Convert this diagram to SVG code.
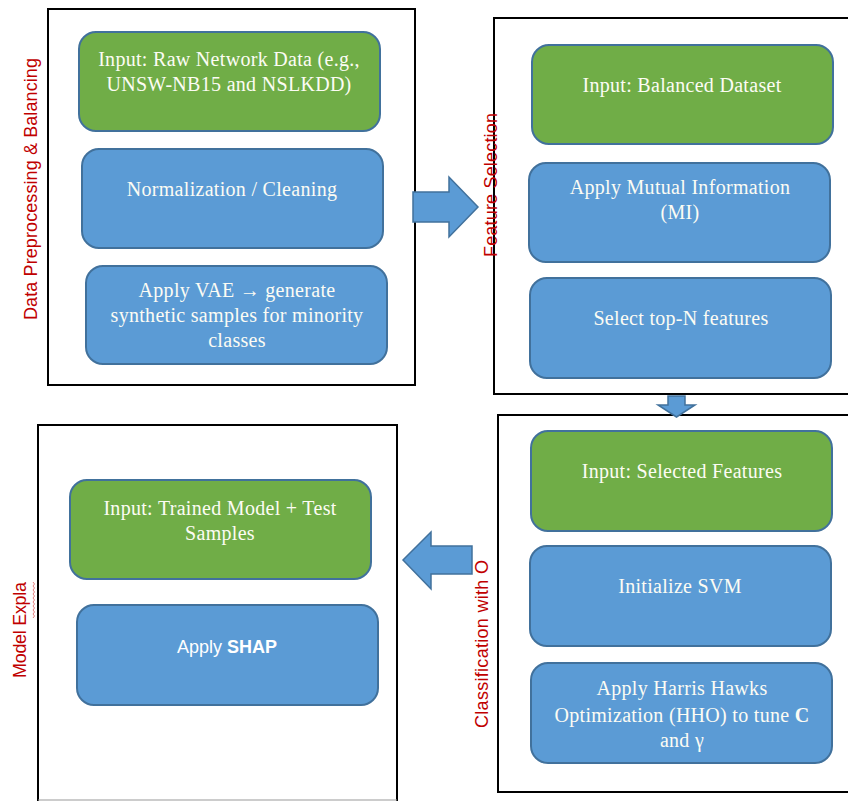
<svg xmlns="http://www.w3.org/2000/svg" width="848" height="801" viewBox="0 0 848 801">
<defs>
<style>
.panel{fill:#ffffff;stroke:#000000;stroke-width:2}
.green{fill:#70ad47;stroke:#41719c;stroke-width:2}
.blue{fill:#5b9bd5;stroke:#41719c;stroke-width:2}
.arrow{fill:#5b9bd5;stroke:#41719c;stroke-width:1.5}
.t{font-family:"Liberation Serif","Times New Roman",serif;font-size:20px;fill:#fcfcf4;text-anchor:middle;letter-spacing:0.3px}
.s{font-family:"Liberation Sans",Arial,sans-serif;font-size:18px;fill:#ffffff;text-anchor:middle}
.lab{font-family:"Liberation Sans",Arial,sans-serif;font-size:18px;fill:#c00000;text-anchor:middle}
</style>
</defs>
<rect width="848" height="801" fill="#ffffff"/>

<g id="panel-preprocessing">
<rect class="panel" x="48" y="9" width="367" height="376"/>
<text class="lab" transform="translate(37,189) rotate(-90)" textLength="262" lengthAdjust="spacing">Data Preprocessing &amp; Balancing</text>
</g>
<g id="node-raw-input">
<rect class="green" x="79" y="32" width="301" height="99" rx="17"/>
<text class="t" x="229" y="66">Input: Raw Network Data (e.g.,</text>
<text class="t" x="229" y="91">UNSW-NB15 and NSLKDD)</text>
</g>
<g id="node-normalization">
<rect class="blue" x="82" y="149" width="301" height="99" rx="17"/>
<text class="t" x="232" y="196">Normalization / Cleaning</text>
</g>
<g id="node-vae">
<rect class="blue" x="86" y="266" width="301" height="98" rx="17"/>
<text class="t" x="237" y="297">Apply VAE → generate</text>
<text class="t" x="237" y="322">synthetic samples for minority</text>
<text class="t" x="237" y="347">classes</text>
</g>

<g id="panel-feature-selection">
<rect class="panel" x="494" y="18" width="360" height="376"/>
<text class="lab" transform="translate(497,185) rotate(-90)" textLength="144" lengthAdjust="spacing">Feature Selection</text>
</g>
<g id="node-balanced-input">
<rect class="green" x="532" y="45" width="301" height="99" rx="17"/>
<text class="t" x="682" y="92">Input: Balanced Dataset</text>
</g>
<g id="node-mi">
<rect class="blue" x="529" y="163" width="301" height="99" rx="17"/>
<text class="t" x="680" y="194">Apply Mutual Information</text>
<text class="t" x="680" y="219">(MI)</text>
</g>
<g id="node-topn">
<rect class="blue" x="530" y="278" width="301" height="100" rx="17"/>
<text class="t" x="681" y="325">Select top-N features</text>
</g>

<g id="panel-classification">
<rect class="panel" x="498" y="415" width="360" height="377"/>
<text class="lab" transform="translate(488,644) rotate(-90)" textLength="168" lengthAdjust="spacing">Classification with O</text>
</g>
<g id="node-selected-input">
<rect class="green" x="531" y="431" width="301" height="100" rx="17"/>
<text class="t" x="682" y="478">Input: Selected Features</text>
</g>
<g id="node-svm">
<rect class="blue" x="530" y="546" width="301" height="100" rx="17"/>
<text class="t" x="680" y="593">Initialize SVM</text>
</g>
<g id="node-hho">
<rect class="blue" x="531" y="663" width="301" height="100" rx="17"/>
<text class="t" x="682" y="695">Apply Harris Hawks</text>
<text class="t" x="682" y="722">Optimization (HHO) to tune <tspan font-weight="bold">C</tspan></text>
<text class="t" x="682" y="747">and γ</text>
</g>

<g id="panel-explanation">
<rect class="panel" x="38" y="425" width="359" height="390"/>
<line x1="38" y1="800" x2="397" y2="800" stroke="#999999" stroke-width="1"/>
<text class="lab" transform="translate(26,630) rotate(-90)" textLength="96" lengthAdjust="spacing">Model Expla</text>
<path d="M33,582 l1.5,2 l-1.5,2 l1.5,2 l-1.5,2 l1.5,2 l-1.5,2 l1.5,2 l-1.5,2 l1.5,2 l-1.5,2 l1.5,2 l-1.5,2 l1.5,2 l-1.5,2 l1.5,2 l-1.5,2 l1.5,2 l-1.5,2" fill="none" stroke="#e06060" stroke-width="0.8"/>
</g>
<g id="node-trained-input">
<rect class="green" x="70" y="480" width="301" height="99" rx="17"/>
<text class="t" x="220" y="515">Input: Trained Model + Test</text>
<text class="t" x="220" y="540">Samples</text>
</g>
<g id="node-shap">
<rect class="blue" x="77" y="605" width="301" height="100" rx="17"/>
<text class="s" x="227" y="653">Apply <tspan font-weight="bold">SHAP</tspan></text>
</g>

<g id="connectors">
<polygon class="arrow" points="413,192 449,192 449,177 478,207 449,237 449,222 413,222"/>
<polygon class="arrow" points="668,396 685,396 685,405 695,405 676.5,417 658,405 668,405"/>
<polygon class="arrow" points="472,546 431,546 431,532 403,560 431,589 431,574 472,574"/>
</g>
</svg>
